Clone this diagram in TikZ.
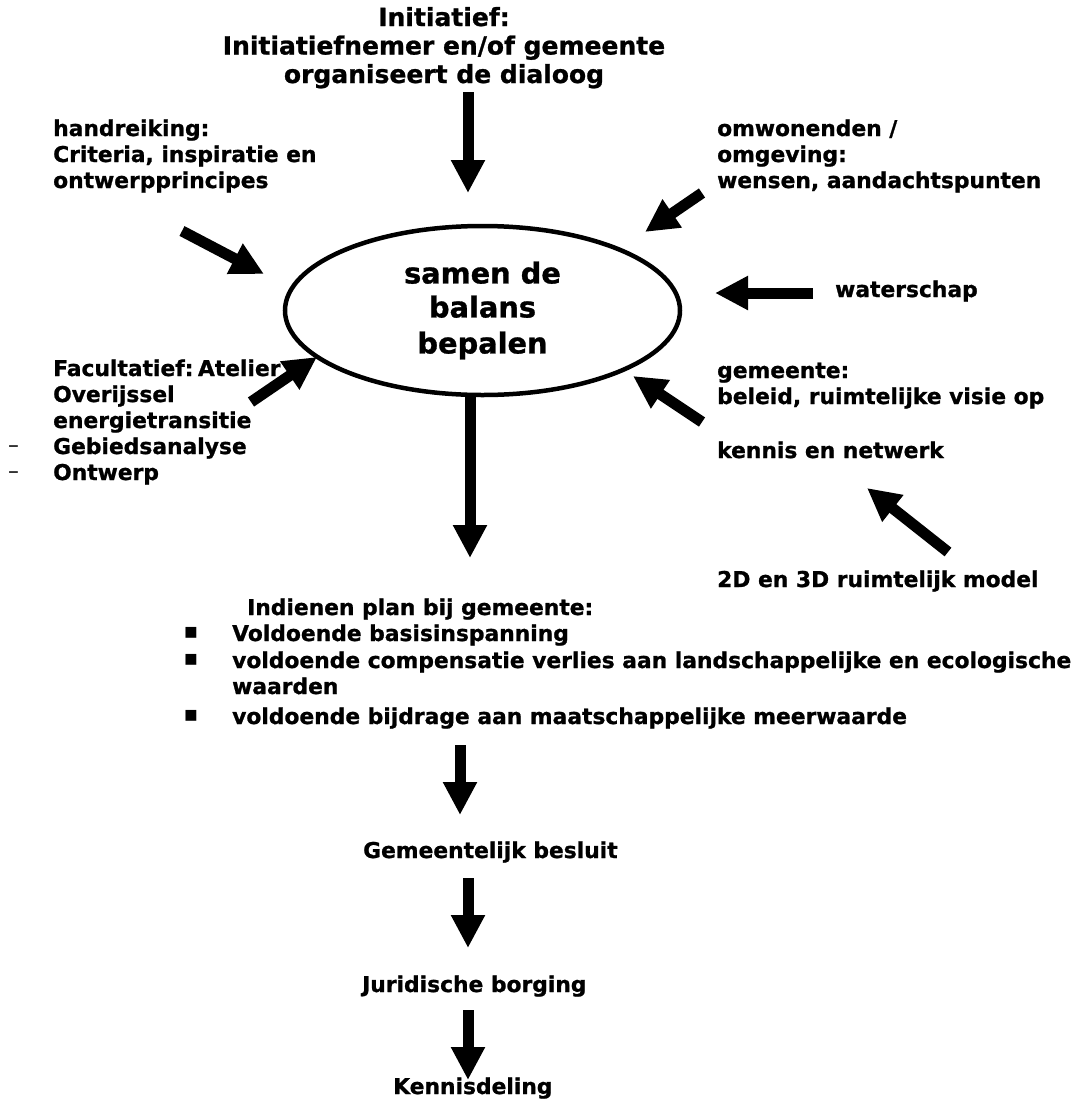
\documentclass[tikz,border=0pt]{standalone}
\usepackage{fontspec}
\setmainfont{DejaVu Sans}[BoldFeatures={FakeBold=1}]
\usetikzlibrary{arrows.meta,shapes.geometric}
\begin{document}
\begin{tikzpicture}[x=1pt,y=-1pt,
  txt/.style={font=\fontsize{21.8}{26}\selectfont\bfseries, inner sep=0pt, anchor=base west},
  toptxt/.style={font=\fontsize{25}{28.5}\selectfont\bfseries, inner sep=0pt, anchor=base},
  dashtxt/.style={font=\fontsize{21.8}{26}\selectfont, inner sep=0pt, anchor=base west},
  bul/.style={font=\fontsize{21.8}{26}\selectfont, inner sep=0pt, anchor=center},
  blk/.style={line width=11pt, -{Triangle[width=32pt,length=33pt]}}]
\useasboundingbox (0,0) rectangle (1083,1104);
% central ellipse
\node[ellipse, draw, line width=4.5pt, minimum width=395pt, minimum height=169pt, inner sep=0pt,
  align=center, font=\fontsize{28.8}{36}\selectfont\bfseries] (bal) at (482.5,310.5)
  {\raisebox{-2pt}{samen de}\\balans\\bepalen};
% top block
\node[toptxt] (i1) at (444,26) {Initiatief:};
\node[toptxt] (i2) at (444,54.5) {Initiatiefnemer en/of gemeente};
\node[toptxt] (i3) at (444,83) {organiseert de dialoog};
% handreiking
\node[txt] (h1) at (53,136) {handreiking:};
\node[txt] (h2) at (53,162) {Criteria, inspiratie en};
\node[txt] (h3) at (53,188) {ontwerpprincipes};
% omwonenden
\node[txt] (o1) at (717,136) {omwonenden /};
\node[txt] (o2) at (717,162) {omgeving:};
\node[txt] (o3) at (717,188) {wensen, aandachtspunten};
% waterschap
\node[txt] (w1) at (835,297) {waterschap};
% facultatief
\node[txt] (f1) at (53,376) {Facultatief:\hspace{4.5pt}Atelier};
\node[txt] (f2) at (53,402) {Overijssel};
\node[txt] (f3) at (53,428) {energietransitie};
\node[dashtxt] (d1) at (8,452) {–};
\node[txt] (f4) at (53,454) {Gebiedsanalyse};
\node[dashtxt] (d2) at (8,478) {–};
\node[txt] (f5) at (53,480) {Ontwerp};
% gemeente
\node[txt] (g1) at (717,378) {gemeente:};
\node[txt] (g2) at (717,404) {beleid, ruimtelijke visie op};
\node[txt] (g3) at (717,458) {kennis en netwerk};
\node[txt] (m1) at (717,587) {2D en 3D ruimtelijk model};
% indienen
\node[txt] (p0) at (247,615) {Indienen plan bij gemeente:};
\node[bul] (b1) at (191,633) {▪};
\node[txt] (p1) at (232,641) {Voldoende basisinspanning};
\node[bul] (b2) at (191,660) {▪};
\node[txt] (p2) at (232,668) {voldoende compensatie verlies aan landschappelijke en ecologische};
\node[txt] (p2b) at (232,694) {waarden};
\node[bul] (b3) at (191,716) {▪};
\node[txt] (p3) at (232,724) {voldoende bijdrage aan maatschappelijke meerwaarde};
% lower chain
\node[txt] (gb) at (363,858) {Gemeentelijk besluit};
\node[txt] (jb) at (362,992) {Juridische borging};
\node[txt] (kd) at (393,1094) {Kennisdeling};
% arrow end points
\coordinate (a1s) at (468,92);   \coordinate (a1e) at (468,193);
\coordinate (a2s) at (182,231);  \coordinate (a2e) at (264,274);
\coordinate (a3s) at (702,193);  \coordinate (a3e) at (645,232);
\coordinate (a4s) at (813,293);  \coordinate (a4e) at (715,293);
\coordinate (a5s) at (251,402);  \coordinate (a5e) at (317,357);
\coordinate (a6s) at (702,422);  \coordinate (a6e) at (633,376);
\coordinate (a7s) at (948,552);  \coordinate (a7e) at (867,488);
\coordinate (a8s) at (470,395);  \coordinate (a8e) at (470,558);
\coordinate (a9s) at (460,745);  \coordinate (a9e) at (460,815);
\coordinate (a10s) at (468,878); \coordinate (a10e) at (468,948);
\coordinate (a11s) at (468,1010);\coordinate (a11e) at (468,1080);
\foreach \n in {1,...,11} \draw[blk] (a\n s) -- (a\n e);
\end{tikzpicture}
\end{document}
